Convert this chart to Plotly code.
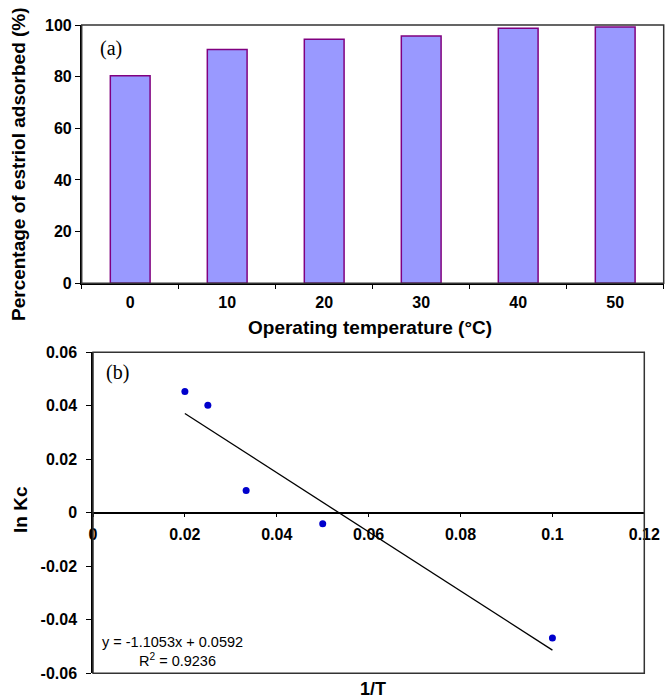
import plotly.graph_objects as go

# ---------------- data ----------------
temperatures = ["0", "10", "20", "30", "40", "50"]
percent_adsorbed = [80.4, 90.5, 94.5, 95.7, 98.7, 99.2]

inv_T = [0.02, 0.025, 1 / 30, 0.05, 0.1]
ln_Kc = [0.0453, 0.0402, 0.0083, -0.0041, -0.0468]

trend_slope = -1.1053
trend_intercept = 0.0592
trend_r2 = 0.9236

top_y_ticks = [0, 20, 40, 60, 80, 100]
bot_x_ticks = [0, 0.02, 0.04, 0.06, 0.08, 0.1, 0.12]
bot_x_labels = ["0", "0.02", "0.04", "0.06", "0.08", "0.1", "0.12"]
bot_y_ticks = [-0.06, -0.04, -0.02, 0, 0.02, 0.04, 0.06]
bot_y_labels = ["-0.06", "-0.04", "-0.02", "0", "0.02", "0.04", "0.06"]

# ---------------- layout helpers ----------------
W, H = 665, 699
def px(x):
    return x / W
def py(y):
    return 1 - y / H

SANS = "Liberation Sans, Arial, sans-serif"
SERIF = "Liberation Serif, Times New Roman, serif"
tickfont = dict(family=SANS, size=16, color="black", weight="bold")
titlefont = dict(family=SANS, size=19, color="black", weight="bold")

top_dom_x = [px(81.7), px(663.7)]
top_dom_y = [py(283.3), py(25)]
bot_dom_x = [px(93), px(644.3)]
bot_dom_y = [py(673.3), py(352.3)]

fig = go.Figure()

fig.add_trace(go.Bar(
    x=temperatures, y=percent_adsorbed,
    marker=dict(color="#9999FF", line=dict(color="#800080", width=1.5)),
    xaxis="x", yaxis="y", showlegend=False,
))

x_line = [min(inv_T), max(inv_T)]
y_line = [trend_slope * v + trend_intercept for v in x_line]
fig.add_trace(go.Scatter(
    x=x_line, y=y_line, mode="lines",
    line=dict(color="black", width=1.3),
    xaxis="x2", yaxis="y2", showlegend=False,
))
fig.add_trace(go.Scatter(
    x=inv_T, y=ln_Kc, mode="markers",
    marker=dict(color="#0000CC", size=7),
    xaxis="x2", yaxis="y2", showlegend=False,
))

fig.update_layout(
    width=W, height=H,
    margin=dict(l=0, r=0, t=0, b=0),
    paper_bgcolor="white", plot_bgcolor="white",
    bargap=0.59,
    xaxis=dict(
        domain=top_dom_x, anchor="y", type="category",
        tickson="boundaries", ticks="outside", ticklen=4, tickwidth=1.3,
        tickcolor="black", showline=True, linecolor="black", linewidth=1.5,
        showgrid=False, tickfont=tickfont, automargin=False,
        ticklabelstandoff=4,
    ),
    yaxis=dict(
        domain=top_dom_y, anchor="x", range=[0, 100],
        tickvals=top_y_ticks, ticks="outside", ticklen=5, tickwidth=1.3,
        tickcolor="black", showline=True, linecolor="black", linewidth=1.5,
        showgrid=False, zeroline=False, tickfont=tickfont, automargin=False,
    ),
    xaxis2=dict(
        domain=bot_dom_x, anchor="free", position=(bot_dom_y[0] + bot_dom_y[1]) / 2,
        range=[0, 0.12], tickvals=bot_x_ticks, ticktext=bot_x_labels,
        ticks="outside", ticklen=3, tickwidth=1.3, tickcolor="black",
        showline=True, linecolor="black", linewidth=1.5,
        showgrid=False, zeroline=False, tickfont=tickfont, automargin=False,
        ticklabelstandoff=4,
    ),
    yaxis2=dict(
        domain=bot_dom_y, anchor="x2", range=[-0.06, 0.06],
        tickvals=bot_y_ticks, ticktext=bot_y_labels,
        ticks="outside", ticklen=5, tickwidth=1.3, tickcolor="black",
        showline=True, linecolor="black", linewidth=1.5,
        showgrid=False, zeroline=False, tickfont=tickfont, automargin=False,
        ticklabelstandoff=6,
    ),
    shapes=[
        dict(type="rect", xref="x domain", yref="y domain", x0=0, x1=1, y0=0, y1=1,
             line=dict(color="#333333", width=1.5), layer="above"),
        dict(type="rect", xref="x2 domain", yref="y2 domain", x0=0, x1=1, y0=0, y1=1,
             line=dict(color="#333333", width=1.5), layer="above"),
    ],
    annotations=[
        dict(text="Percentage of estriol adsorbed (%)", textangle=-90, xref="paper", yref="paper",
             x=px(18), y=py(164), xanchor="center", yanchor="middle", showarrow=False, font=titlefont),
        dict(text="Operating temperature (°C)", xref="paper", yref="paper",
             x=px(370), y=py(327.3), xanchor="center", yanchor="middle", showarrow=False, font=titlefont),
        dict(text="ln Kc", textangle=-90, xref="paper", yref="paper",
             x=px(20), y=py(510), xanchor="center", yanchor="middle", showarrow=False, font=titlefont),
        dict(text="1/T", xref="paper", yref="paper",
             x=px(372.7), y=py(688.5), xanchor="center", yanchor="middle", showarrow=False,
             font=dict(family=SANS, size=18, color="black", weight="bold")),
        dict(text="(a)", xref="paper", yref="paper", x=px(98), y=py(48),
             xanchor="left", yanchor="middle", showarrow=False,
             font=dict(family=SERIF, size=20, color="black")),
        dict(text="(b)", xref="paper", yref="paper", x=px(104), y=py(372.7),
             xanchor="left", yanchor="middle", showarrow=False,
             font=dict(family=SERIF, size=20, color="black")),
        dict(text=f"y = {trend_slope}x + {trend_intercept}", xref="paper", yref="paper",
             x=px(99.5), y=py(642.3), xanchor="left", yanchor="middle", showarrow=False,
             font=dict(family=SANS, size=14.5, color="black")),
        dict(text=f"R<sup>2</sup> = {trend_r2}", xref="paper", yref="paper",
             x=px(137), y=py(660), xanchor="left", yanchor="middle", showarrow=False,
             font=dict(family=SANS, size=14.5, color="black")),
    ],
)

fig.write_html(
    "out.html",
    config={"displayModeBar": False},
    post_script="document.body.style.margin='0';document.body.style.overflow='hidden';",
)
